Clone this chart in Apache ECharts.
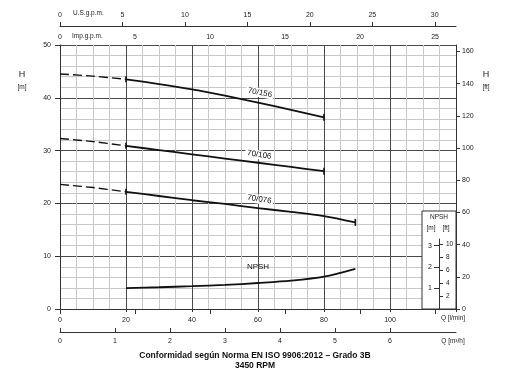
<!DOCTYPE html>
<html>
<head>
<meta charset="utf-8">
<script src="https://cdn.jsdelivr.net/npm/echarts@6/dist/echarts.min.js"></script>
<style>html,body{margin:0;padding:0;background:#fff}#c{width:512px;height:374px}</style>
</head>
<body>
<div id="c"></div>
<script>
// ---- data ----
const flow = [0, 10, 20, 30, 40, 50, 60, 70, 80];
const h156 = [44.5, 44.1, 43.5, 42.6, 41.6, 40.4, 39.1, 37.7, 36.3];
const h106 = [32.3, 31.7, 30.9, 30.1, 29.3, 28.5, 27.7, 26.9, 26.1];
const flow076 = [0, 10, 20, 30, 40, 50, 60, 70, 80, 89.5];
const h076 = [23.6, 23.0, 22.2, 21.4, 20.6, 19.9, 19.1, 18.4, 17.6, 16.4];
const flowNpsh = [20, 30, 40, 50, 60, 70, 80, 89.5];
const npsh = [0.99, 1.03, 1.08, 1.14, 1.23, 1.34, 1.53, 1.9];
const curveNames = ['70/156', '70/106', '70/076'];
const qTicksLmin = [0, 20, 40, 60, 80, 100];
const qTicksM3h = [0, 1, 2, 3, 4, 5, 6];
const usGpmTicks = [0, 5, 10, 15, 20, 25, 30];
const impGpmTicks = [0, 5, 10, 15, 20, 25];
const ftTicks = [0, 20, 40, 60, 80, 100, 120, 140, 160];
const npshMTicks = [1, 2, 3];
const npshFtTicks = [2, 4, 6, 8, 10];
const dashEnd = 20; // start of the solid (operating) range

const Q_MAX = 120, H_MAX = 50;
const M_TO_FT = 3.28084, US_GAL = 3.78541, IMP_GAL = 4.54609;

function pairs(xs, ys, from, to) {
  const out = [];
  for (let i = 0; i < xs.length; i++) {
    if (xs[i] >= from && xs[i] <= to) out.push([xs[i], ys[i]]);
  }
  return out;
}

const font = 'Liberation Sans, Arial, sans-serif';
const txt = '#222';
const major = '#4a4a4a';
const minor = '#c8c8c8';

const chart = echarts.init(document.getElementById('c'), null, {renderer: 'canvas'});

const curves = [
  {x: flow, y: h156, name: curveNames[0], off: -10, rot: -11},
  {x: flow, y: h106, name: curveNames[1], off: -8, rot: -9},
  {x: flow076, y: h076, name: curveNames[2], off: -9, rot: -9}
];

const series = [];
curves.forEach(c => {
  const last = c.x.length - 1;
  const mid = c.x.indexOf(60);
  series.push({
    type: 'line', xAxisIndex: 0, yAxisIndex: 0, smooth: 0.3, symbol: 'none',
    data: pairs(c.x, c.y, 0, dashEnd),
    lineStyle: {color: '#111', width: 1.4, type: [9, 4]}, z: 3, silent: true
  });
  series.push({
    type: 'line', xAxisIndex: 0, yAxisIndex: 0, smooth: 0.3, symbol: 'none',
    data: pairs(c.x, c.y, dashEnd, 1e9),
    lineStyle: {color: '#111', width: 1.8}, z: 3, silent: true,
    markPoint: {
      silent: true,
      data: [
        {coord: [c.x[last], c.y[last]], symbol: 'rect', symbolSize: [1.6, 7], itemStyle: {color: '#111'}, label: {show: false}},
        {coord: [dashEnd, c.y[c.x.indexOf(dashEnd)]], symbol: 'rect', symbolSize: [1.6, 6], itemStyle: {color: '#111'}, label: {show: false}},
        {coord: [c.x[mid], c.y[mid]], symbol: 'circle', symbolSize: 0,
          label: {show: true, formatter: c.name, offset: [0, c.off], rotate: c.rot,
            color: '#111', fontSize: 8, fontFamily: font, backgroundColor: '#fff', padding: [1, 2, 0, 2]}}
      ]
    }
  });
});

const npshMid = flowNpsh.indexOf(60);
series.push({
  type: 'line', xAxisIndex: 0, yAxisIndex: 2, smooth: 0.3, symbol: 'none',
  data: pairs(flowNpsh, npsh, 0, 1e9),
  lineStyle: {color: '#111', width: 1.8}, z: 3, silent: true,
  markPoint: {
    silent: true,
    data: [{coord: [flowNpsh[npshMid], npsh[npshMid]], symbol: 'circle', symbolSize: 0,
      label: {show: true, formatter: 'NPSH', offset: [0, -16], color: '#111', fontSize: 8, fontFamily: font}}]
  }
});

const lbl = {color: txt, fontSize: 7, fontFamily: font};

chart.setOption({
  animation: false,
  backgroundColor: '#fff',
  grid: [
    {left: 60, right: 56, top: 45, bottom: 65},
    {left: 439, right: 56, top: 239, bottom: 65}
  ],
  xAxis: [
    { // Q l/min
      type: 'value', gridIndex: 0, min: 0, max: Q_MAX, interval: 20, position: 'bottom',
      axisLine: {show: true, onZero: false, lineStyle: {color: '#333', width: 1}},
      axisTick: {show: true, length: 3, lineStyle: {color: '#333'}},
      axisLabel: Object.assign({margin: 8, customValues: qTicksLmin}, lbl),
      splitLine: {show: true, lineStyle: {color: major, width: 1}},
      minorTick: {show: false, splitNumber: 4},
      minorSplitLine: {show: true, lineStyle: {color: minor, width: 1}}
    },
    { // Q m3/h
      type: 'value', gridIndex: 0, min: 0, max: Q_MAX * 60 / 1000, position: 'bottom', offset: 23,
      axisLine: {show: true, onZero: false, lineStyle: {color: '#333', width: 1}},
      axisTick: {show: true, inside: true, length: 4, customValues: qTicksM3h, lineStyle: {color: '#333'}},
      axisLabel: Object.assign({margin: 6, customValues: qTicksM3h}, lbl),
      splitLine: {show: false}
    },
    { // US gpm
      type: 'value', gridIndex: 0, min: 0, max: Q_MAX / US_GAL, position: 'top', offset: 19,
      axisLine: {show: true, onZero: false, lineStyle: {color: '#333', width: 1}},
      axisTick: {show: true, length: 4, customValues: usGpmTicks, lineStyle: {color: '#333'}},
      axisLabel: Object.assign({margin: 7, customValues: usGpmTicks}, lbl),
      splitLine: {show: false}
    },
    { // Imp gpm
      type: 'value', gridIndex: 0, min: 0, max: Q_MAX / IMP_GAL, position: 'top', offset: 19,
      axisLine: {show: false},
      axisTick: {show: true, inside: true, length: 5, customValues: impGpmTicks, lineStyle: {color: '#333'}},
      axisLabel: Object.assign({inside: true, margin: 8, customValues: impGpmTicks}, lbl),
      splitLine: {show: false}
    },
    { // NPSH inset
      type: 'value', gridIndex: 1, min: 0, max: 1, show: false
    }
  ],
  yAxis: [
    { // H m
      type: 'value', gridIndex: 0, min: 0, max: H_MAX, interval: 10, position: 'left',
      axisLine: {show: true, onZero: false, lineStyle: {color: '#333', width: 1}},
      axisTick: {show: true, length: 5, lineStyle: {color: '#333'}},
      axisLabel: Object.assign({margin: 9}, lbl),
      splitLine: {show: true, lineStyle: {color: major, width: 1}},
      minorTick: {show: false, splitNumber: 5},
      minorSplitLine: {show: true, lineStyle: {color: minor, width: 1}}
    },
    { // H ft
      type: 'value', gridIndex: 0, min: 0, max: H_MAX * M_TO_FT, position: 'right',
      axisLine: {show: true, onZero: false, lineStyle: {color: '#333', width: 1}},
      axisTick: {show: true, length: 4, customValues: ftTicks, lineStyle: {color: '#333'}},
      axisLabel: Object.assign({margin: 6, customValues: ftTicks}, lbl),
      splitLine: {show: false}
    },
    { // NPSH scale on main grid (1 m NPSH = 4 m H)
      type: 'value', gridIndex: 0, min: 0, max: H_MAX / 4, show: false
    },
    { // inset NPSH m
      type: 'value', gridIndex: 1, min: 0, max: 70 / (264 / (H_MAX / 4)), position: 'left', z: 6,
      axisLine: {show: true, onZero: false, lineStyle: {color: '#333', width: 1}},
      axisTick: {show: true, length: 5, customValues: npshMTicks, lineStyle: {color: '#333'}},
      axisLabel: Object.assign({margin: 7, customValues: npshMTicks}, lbl),
      splitLine: {show: false}
    },
    { // inset NPSH ft
      type: 'value', gridIndex: 1, min: 0, max: 70 / (264 / (H_MAX / 4)) * M_TO_FT, position: 'left', z: 6,
      axisLine: {show: false},
      axisTick: {show: true, inside: true, length: 4, customValues: npshFtTicks, lineStyle: {color: '#333'}},
      axisLabel: Object.assign({inside: true, margin: 7, customValues: npshFtTicks}, lbl, {fontSize: 6.5}),
      splitLine: {show: false}
    }
  ],
  graphic: [
    {type: 'rect', z: 1, shape: {x: 422, y: 211, width: 34, height: 98},
      style: {fill: '#fff', stroke: '#333', lineWidth: 1}},
    {type: 'text', z: 6, x: 439, y: 214, style: {text: 'NPSH', fill: txt, fontSize: 6.5, fontFamily: font, textAlign: 'center'}},
    {type: 'text', z: 6, x: 431, y: 225, style: {text: '[m]', fill: txt, fontSize: 6.5, fontFamily: font, textAlign: 'center'}},
    {type: 'text', z: 6, x: 446, y: 225, style: {text: '[ft]', fill: txt, fontSize: 6.5, fontFamily: font, textAlign: 'center'}},
    {type: 'text', z: 6, x: 22, y: 70, style: {text: 'H', fill: txt, fontSize: 9, fontFamily: font, textAlign: 'center'}},
    {type: 'text', z: 6, x: 22, y: 84, style: {text: '[m]', fill: txt, fontSize: 6.5, fontFamily: font, textAlign: 'center'}},
    {type: 'text', z: 6, x: 486, y: 70, style: {text: 'H', fill: txt, fontSize: 9, fontFamily: font, textAlign: 'center'}},
    {type: 'text', z: 6, x: 486, y: 84, style: {text: '[ft]', fill: txt, fontSize: 6.5, fontFamily: font, textAlign: 'center'}},
    {type: 'text', z: 6, x: 73, y: 10, style: {text: 'U.S.g.p.m.', fill: txt, fontSize: 6.5, fontFamily: font}},
    {type: 'text', z: 6, x: 72, y: 33, style: {text: 'Imp.g.p.m.', fill: txt, fontSize: 6.5, fontFamily: font}},
    {type: 'text', z: 6, x: 453, y: 315, style: {text: 'Q [l/min]', fill: txt, fontSize: 6.5, fontFamily: font, textAlign: 'center'}},
    {type: 'text', z: 6, x: 453, y: 338, style: {text: 'Q [m³/h]', fill: txt, fontSize: 6.5, fontFamily: font, textAlign: 'center'}},
    {type: 'text', z: 6, x: 255, y: 351, style: {text: 'Conformidad según Norma EN ISO 9906:2012 – Grado 3B', fill: '#111', fontSize: 8.5, fontWeight: 'bold', fontFamily: font, textAlign: 'center'}},
    {type: 'text', z: 6, x: 255, y: 361, style: {text: '3450 RPM', fill: '#111', fontSize: 8.5, fontWeight: 'bold', fontFamily: font, textAlign: 'center'}}
  ],
  series: series
});
</script>
</body>
</html>
